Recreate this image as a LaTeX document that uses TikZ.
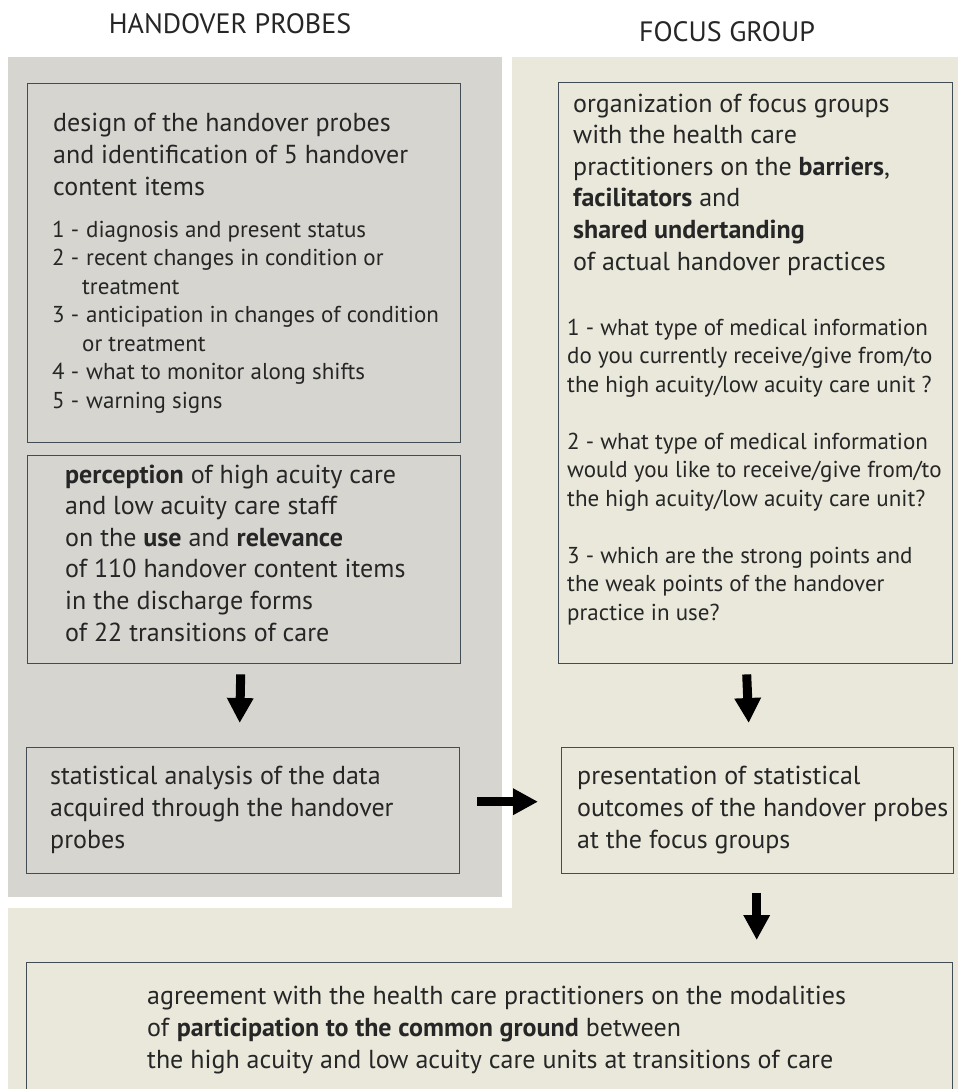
\documentclass[tikz,border=0pt]{standalone}
\usepackage{fontspec}
\setmainfont{PT Sans}
\usetikzlibrary{arrows.meta}

\definecolor{probegray}{RGB}{214,213,208}
\definecolor{focusbeige}{RGB}{233,232,219}
\definecolor{boxline}{RGB}{66,76,84}

\tikzset{
  panelbox/.style={draw=boxline, line width=1.4pt, inner sep=0pt, anchor=north west},
  headtext/.style={anchor=base, inner sep=0pt, text=black!85, font=\fontsize{28}{32}\selectfont},
  bodytext/.style={anchor=base west, align=left, inner sep=0pt, text=black!85, font=\fontsize{26}{31.6}\selectfont},
  listtext/.style={anchor=base west, align=left, inner sep=0pt, text=black!85, font=\fontsize{23}{28.5}\selectfont},
  fatarrow/.style={line width=9pt, -{Triangle[width=25pt,length=25pt]}}
}
\newcommand{\itemno}[1]{\makebox[34pt][l]{#1}}

\begin{document}
\begin{tikzpicture}[x=1pt,y=-1pt]
  % canvas and the two columns
  \clip (0,0) rectangle (958,1089);
  \fill[white] (0,0) rectangle (958,1089);
  \fill[focusbeige] (8,57) rectangle (958,1089);
  \fill[white] (8,57) rectangle (512,908);
  \fill[probegray] (8,57) rectangle (502,897);

  % column titles
  \node[headtext] (tprobe) at (230,34) {HANDOVER PROBES};
  \node[headtext] (tfocus) at (727,42) {FOCUS GROUP};

  % boxes
  \node[panelbox, minimum width=433pt, minimum height=359pt] (design) at (27,83) {};
  \node[panelbox, minimum width=433pt, minimum height=208pt] (perc) at (27,455) {};
  \node[panelbox, minimum width=433pt, minimum height=126pt] (stat) at (26,747) {};
  \node[panelbox, minimum width=394pt, minimum height=581pt] (org) at (558,82) {};
  \node[panelbox, minimum width=392pt, minimum height=126pt] (pres) at (561,747) {};
  \node[panelbox, minimum width=926pt, minimum height=160pt] (agree) at (26,962) {};

  % handover probes texts (placed by the baseline of their last line)
  \node[bodytext] (designtxt) at (53,195)
    {design of the handover probes\\and identification of 5 handover\\content items};
  \node[listtext] (itemstxt) at (52,408)
    {\itemno{1 -}diagnosis and present status\\
     \itemno{2 -}recent changes in condition or\\
     \hspace*{30pt}treatment\\
     \itemno{3 -}anticipation in changes of condition\\
     \hspace*{30pt}or treatment\\
     \itemno{4 -}what to monitor along shifts\\
     \itemno{5 -}warning signs};
  \node[bodytext] (perctxt) at (65,641)
    {\textbf{perception} of high acuity care\\and low acuity care staff\\
     on the \textbf{use} and \textbf{relevance}\\of 110 handover content items\\
     in the discharge forms\\of 22 transitions of care};
  \node[bodytext] (stattxt) at (50,848)
    {statistical analysis of the data\\acquired through the handover\\probes};

  % focus group texts
  \node[bodytext] (orgtxt) at (573,270)
    {organization of focus groups\\with the health care\\
     practitioners on the \textbf{barriers},\\\textbf{facilitators} and\\
     \textbf{shared undertanding}\\of actual handover practices};
  \node[listtext] (questtxt) at (567,620)
    {1 - what type of medical information\\do you currently receive/give from/to\\
     the high acuity/low acuity care unit ?\\[28.5pt]
     2 - what type of medical information\\would you like to receive/give from/to\\
     the high acuity/low acuity care unit?\\[28.5pt]
     3 - which are the strong points and\\the weak points of the handover\\
     practice in use?};
  \node[bodytext] (prestxt) at (577,848)
    {presentation of statistical\\outcomes of the handover probes\\at the focus groups};
  \node[bodytext] (agreetxt) at (147,1068)
    {agreement with the health care practitioners on the modalities\\
     of \textbf{participation to the common ground} between\\
     the high acuity and low acuity care units at transitions of care};

  % arrows
  \draw[fatarrow] ([xshift=-3.5pt,yshift=-10pt]perc.south) -- ([xshift=-3.5pt,yshift=24pt]stat.north);
  \draw[fatarrow] ([xshift=-9pt,yshift=-10pt]org.south) -- ([xshift=-9pt,yshift=24pt]pres.north);
  \draw[fatarrow] ([xshift=17pt,yshift=9pt]stat.east) -- ([xshift=-23pt,yshift=9pt]pres.west);
  \draw[fatarrow] ([xshift=-1pt,yshift=-19pt]pres.south) -- ([xshift=267pt,yshift=22pt]agree.north);
\end{tikzpicture}
\end{document}
